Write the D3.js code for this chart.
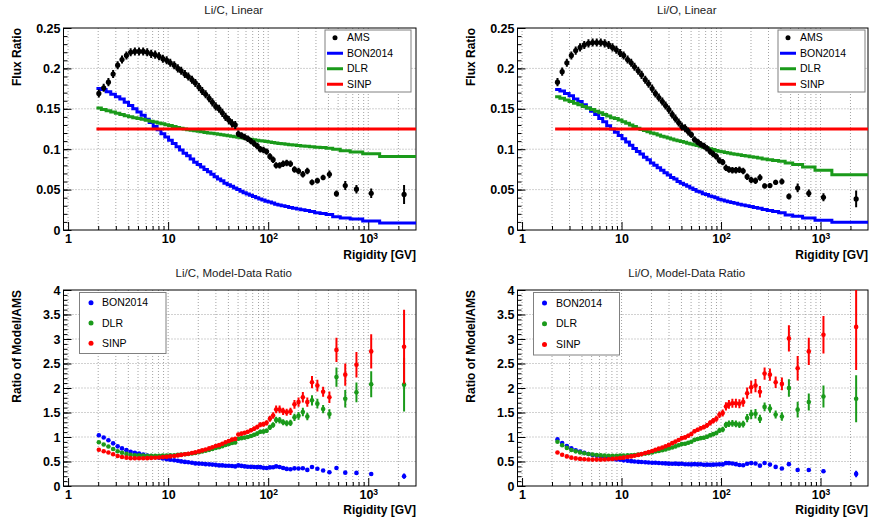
<!DOCTYPE html>
<html>
<head>
<meta charset="utf-8">
<script src="https://cdn.jsdelivr.net/npm/d3@7"></script>
<style>
  body { margin: 0; background: #fff; }
  svg { display: block; }
  text { font-family: "Liberation Sans", Arial, Helvetica, sans-serif; }
</style>
</head>
<body>
<div id="chart"></div>
<script>
// DATA
// rigidity bin edges [GV] used by the model histograms
var binEdges = [1.92, 2.15, 2.40, 2.67, 2.97, 3.29, 3.64, 4.02, 4.43, 4.88,
    5.37, 5.90, 6.47, 7.09, 7.76, 8.48, 9.26, 10.1, 11.0, 12.0,
    13.0, 14.1, 15.3, 16.6, 18.0, 19.5, 21.1, 22.8, 24.7, 26.7,
    28.8, 31.1, 33.5, 36.1, 38.9, 41.9, 45.1, 48.5, 52.2, 56.1,
    60.3, 64.8, 69.7, 74.9, 80.5, 86.5, 93.0, 100, 108, 116,
    125, 135, 147, 160, 175, 192, 211, 233, 259, 291,
    330, 379, 441, 525, 660, 880, 1300, 3300];

// rigidity where each AMS point sits
var amsRigidity = [2.03, 2.27, 2.53, 2.82, 3.13, 3.46, 3.83, 4.22, 4.65, 5.12,
    5.63, 6.18, 6.77, 7.42, 8.11, 8.86, 9.67, 10.5, 11.5, 12.5,
    13.5, 14.7, 15.9, 17.3, 18.7, 20.3, 21.9, 23.7, 25.7, 27.7,
    29.9, 32.3, 34.8, 37.5, 40.4, 43.5, 46.8, 50.3, 54.1, 58.2,
    62.5, 67.2, 72.3, 77.7, 83.4, 89.7, 96.4, 104, 112, 120,
    130, 141, 153, 167, 183, 201, 222, 246, 274, 310,
    354, 409, 481, 589, 762, 1070, 2280];

// Li/C (all 67 bins)
var licAms = [0.169, 0.176, 0.183, 0.193, 0.204, 0.211, 0.216, 0.220, 0.221, 0.221,
    0.221, 0.220, 0.218, 0.217, 0.215, 0.212, 0.210, 0.207, 0.204, 0.200,
    0.197, 0.193, 0.190, 0.186, 0.182, 0.177, 0.172, 0.168, 0.163, 0.158,
    0.153, 0.150, 0.145, 0.140, 0.136, 0.132, 0.130, 0.119, 0.117, 0.115,
    0.113, 0.110, 0.107, 0.104, 0.100, 0.099, 0.097, 0.091, 0.087, 0.080,
    0.080, 0.082, 0.083, 0.082, 0.075, 0.073, 0.069, 0.073, 0.059, 0.061,
    0.065, 0.069, 0.045, 0.055, 0.0505, 0.0455, 0.044];
var licAmsErr = [0.005, 0.005, 0.005, 0.005, 0.005, 0.005, 0.005, 0.005, 0.005, 0.005,
    0.005, 0.005, 0.005, 0.005, 0.005, 0.005, 0.005, 0.005, 0.005, 0.005,
    0.005, 0.005, 0.005, 0.005, 0.005, 0.005, 0.005, 0.005, 0.005, 0.005,
    0.005, 0.005, 0.005, 0.005, 0.005, 0.005, 0.005, 0.004, 0.004, 0.004,
    0.004, 0.004, 0.004, 0.004, 0.004, 0.004, 0.004, 0.004, 0.004, 0.004,
    0.004, 0.004, 0.004, 0.004, 0.004, 0.004, 0.004, 0.004, 0.0035, 0.0036,
    0.0035, 0.0045, 0.004, 0.0055, 0.0053, 0.0058, 0.0117];
var licBon = [0.175, 0.174, 0.171, 0.168, 0.165, 0.162, 0.158, 0.154, 0.150, 0.146,
    0.142, 0.137, 0.133, 0.128, 0.124, 0.119, 0.115, 0.111, 0.107, 0.103,
    0.099, 0.095, 0.092, 0.088, 0.084, 0.081, 0.078, 0.075, 0.072, 0.069,
    0.066, 0.063, 0.061, 0.058, 0.056, 0.054, 0.052, 0.050, 0.048, 0.046,
    0.0445, 0.043, 0.0415, 0.040, 0.0385, 0.037, 0.0357, 0.0345, 0.0333, 0.032,
    0.031, 0.030, 0.029, 0.028, 0.027, 0.026, 0.025, 0.024, 0.0228, 0.0215,
    0.0205, 0.0193, 0.0165, 0.015, 0.0135, 0.0112, 0.0088];
var licDlr = [0.151, 0.149, 0.1475, 0.146, 0.1445, 0.143, 0.1415, 0.1403, 0.139, 0.138,
    0.137, 0.1358, 0.1347, 0.1336, 0.1325, 0.1314, 0.1303, 0.1292, 0.1281, 0.127,
    0.126, 0.125, 0.1242, 0.1235, 0.1228, 0.1221, 0.1215, 0.1208, 0.1202, 0.1196,
    0.119, 0.1184, 0.1178, 0.1172, 0.1166, 0.116, 0.1154, 0.1148, 0.1142, 0.1136,
    0.113, 0.1124, 0.1118, 0.1112, 0.1106, 0.110, 0.1094, 0.1088, 0.1083, 0.1078,
    0.1072, 0.1067, 0.1062, 0.1056, 0.1051, 0.1046, 0.1041, 0.1036, 0.1031, 0.1025,
    0.102, 0.1013, 0.100, 0.098, 0.0965, 0.0945, 0.091];
var licSinp = 0.125;

// Li/O (66 bins, starting at 2.15 GV)
var lioAms = [0.183, 0.196, 0.207, 0.216, 0.222, 0.226, 0.229, 0.231, 0.232, 0.232,
    0.232, 0.231, 0.229, 0.226, 0.223, 0.219, 0.216, 0.211, 0.207, 0.202,
    0.197, 0.192, 0.186, 0.181, 0.175, 0.169, 0.164, 0.159, 0.154, 0.149,
    0.143, 0.138, 0.133, 0.128, 0.126, 0.122, 0.118, 0.112, 0.109, 0.106,
    0.104, 0.101, 0.097, 0.094, 0.091, 0.086, 0.084, 0.077, 0.075, 0.074,
    0.074, 0.0745, 0.073, 0.066, 0.062, 0.061, 0.065, 0.0545, 0.055, 0.059,
    0.060, 0.0415, 0.052, 0.0455, 0.0405, 0.0385];
var lioAmsErr = [0.005, 0.005, 0.005, 0.005, 0.005, 0.005, 0.005, 0.005, 0.005, 0.005,
    0.005, 0.005, 0.005, 0.005, 0.005, 0.005, 0.005, 0.005, 0.005, 0.005,
    0.005, 0.005, 0.005, 0.005, 0.005, 0.005, 0.005, 0.005, 0.005, 0.005,
    0.005, 0.005, 0.005, 0.005, 0.005, 0.005, 0.004, 0.004, 0.004, 0.004,
    0.004, 0.004, 0.004, 0.004, 0.004, 0.004, 0.004, 0.004, 0.004, 0.004,
    0.004, 0.004, 0.004, 0.004, 0.004, 0.004, 0.004, 0.003, 0.003, 0.0033,
    0.0037, 0.0037, 0.0054, 0.0046, 0.005, 0.0104];
var lioBon = [0.174, 0.172, 0.169, 0.166, 0.162, 0.159, 0.155, 0.151, 0.147, 0.143,
    0.138, 0.134, 0.129, 0.125, 0.121, 0.117, 0.113, 0.109, 0.105, 0.101,
    0.097, 0.094, 0.090, 0.087, 0.083, 0.080, 0.077, 0.074, 0.071, 0.068,
    0.065, 0.063, 0.060, 0.058, 0.056, 0.054, 0.052, 0.050, 0.048, 0.047,
    0.045, 0.044, 0.042, 0.041, 0.040, 0.038, 0.037, 0.036, 0.035, 0.034,
    0.033, 0.032, 0.031, 0.030, 0.029, 0.028, 0.027, 0.0255, 0.024, 0.023,
    0.0215, 0.0185, 0.017, 0.0148, 0.0122, 0.0095];
var lioDlr = [0.165, 0.163, 0.161, 0.159, 0.157, 0.155, 0.153, 0.151, 0.149, 0.147,
    0.145, 0.143, 0.141, 0.139, 0.138, 0.136, 0.134, 0.132, 0.130, 0.128,
    0.126, 0.1245, 0.123, 0.1215, 0.120, 0.119, 0.1175, 0.116, 0.115, 0.114,
    0.1125, 0.1115, 0.1105, 0.1095, 0.1085, 0.1075, 0.1065, 0.1055, 0.1045, 0.1035,
    0.1025, 0.1015, 0.1005, 0.0995, 0.0985, 0.0975, 0.0968, 0.096, 0.0953, 0.0945,
    0.0938, 0.093, 0.0922, 0.0915, 0.0907, 0.090, 0.089, 0.088, 0.087, 0.086,
    0.085, 0.083, 0.081, 0.078, 0.074, 0.0685];
var lioSinp = 0.125;

// axis ticks
var xDecades = [1, 10, 100, 1000];
var fluxTicks = [0, 0.05, 0.1, 0.15, 0.2, 0.25];
var ratioTicks = [0, 0.5, 1, 1.5, 2, 2.5, 3, 3.5, 4];

// colours
var colBon = "#0000ff";
var colDlr = "#1a9a1a";
var colSinp = "#ff0000";

// LAYOUT
var svg = d3.select("#chart").append("svg")
    .attr("width", 873)
    .attr("height", 523);

var frames = {
    tl: { l: 63.5, r: 416, t: 28, b: 230 },
    tr: { l: 517.5, r: 868, t: 28, b: 230 },
    bl: { l: 63.5, r: 416, t: 290, b: 486 },
    br: { l: 517.5, r: 868, t: 290, b: 486 }
};

var clipId = 0;

// draws the frame, grid, axes and titles of one pad, returns scales + clipped group
function drawPad(f, yMax, yTicks, yMinorStep, title, titleY, yTitle, xTitleY) {
    var x = d3.scaleLog().domain([0.9, 3000]).range([f.l, f.r]);
    var y = d3.scaleLinear().domain([0, yMax]).range([f.b, f.t]);

    var minorX = [];
    xDecades.forEach(function (d) {
        for (var k = 2; k < 10; k++) {
            if (d * k < 3000) minorX.push(d * k);
        }
    });

    var g = svg.append("g");

    // grid
    g.selectAll(".gx").data(xDecades.concat(minorX)).enter().append("line")
        .attr("x1", d => x(d)).attr("x2", d => x(d))
        .attr("y1", f.t).attr("y2", f.b)
        .attr("stroke", "#8c8c8c").attr("stroke-width", 0.8)
        .attr("stroke-dasharray", "1,2");
    g.selectAll(".gy").data(yTicks.slice(1, -1)).enter().append("line")
        .attr("x1", f.l).attr("x2", f.r)
        .attr("y1", d => y(d)).attr("y2", d => y(d))
        .attr("stroke", "#8c8c8c").attr("stroke-width", 0.8)
        .attr("stroke-dasharray", "1,2");

    // x axis, ticks inside
    var xAxis = g.append("g")
        .attr("transform", `translate(0, ${f.b})`)
        .call(d3.axisBottom(x).tickValues(xDecades).tickSize(-8).tickPadding(4));
    xAxis.selectAll("text").each(function (d) {
        var t = d3.select(this);
        var e = Math.round(Math.log10(d));
        t.text(null);
        if (e < 2) {
            t.text(d);
        } else {
            t.append("tspan").text("10");
            t.append("tspan").attr("dy", "-0.5em").attr("font-size", "8.5px").text(e);
        }
    });
    g.append("g")
        .attr("transform", `translate(0, ${f.b})`)
        .call(d3.axisBottom(x).tickValues(minorX).tickSize(-4).tickFormat(""));

    // y axis
    var yMinor = d3.range(0, yMax + yMinorStep / 2, yMinorStep);
    g.append("g")
        .attr("transform", `translate(${f.l}, 0)`)
        .call(d3.axisLeft(y).tickValues(yTicks).tickSize(-8).tickPadding(3).tickFormat(d => String(d)));
    g.append("g")
        .attr("transform", `translate(${f.l}, 0)`)
        .call(d3.axisLeft(y).tickValues(yMinor).tickSize(-4).tickFormat(""));

    g.selectAll(".domain").remove();
    g.selectAll(".tick text")
        .attr("font-family", "'Liberation Sans', Arial, sans-serif")
        .attr("font-size", "12.5px")
        .attr("font-weight", "bold")
        .attr("fill", "#000");

    // frame
    g.append("rect")
        .attr("x", f.l).attr("y", f.t)
        .attr("width", f.r - f.l).attr("height", f.b - f.t)
        .attr("fill", "none").attr("stroke", "#000").attr("stroke-width", 1);

    // titles
    svg.append("text")
        .attr("x", (f.l + f.r) / 2 - 6).attr("y", titleY)
        .attr("text-anchor", "middle")
        .attr("font-size", "11.5px").attr("fill", "#222")
        .text(title);
    svg.append("text")
        .attr("transform", `translate(${f.l - 47}, ${f.t}) rotate(-90)`)
        .attr("dy", "0.35em")
        .attr("text-anchor", "end")
        .attr("font-size", "12px").attr("font-weight", "bold")
        .text(yTitle);
    svg.append("text")
        .attr("x", f.r).attr("y", xTitleY)
        .attr("text-anchor", "end")
        .attr("font-size", "12px").attr("font-weight", "bold")
        .text("Rigidity [GV]");

    // clipped group for the data
    clipId += 1;
    svg.append("clipPath").attr("id", "clip" + clipId)
        .append("rect")
        .attr("x", f.l).attr("y", f.t)
        .attr("width", f.r - f.l).attr("height", f.b - f.t);
    var plot = svg.append("g").attr("clip-path", `url(#clip${clipId})`);

    return { x: x, y: y, plot: plot };
}

// step histogram over rigidity bins
function drawHist(p, edges, vals, color) {
    var pts = edges.map((e, i) => [e, vals[Math.min(i, vals.length - 1)]]);
    var line = d3.line()
        .x(d => p.x(d[0]))
        .y(d => p.y(d[1]))
        .curve(d3.curveStepAfter);
    p.plot.append("path")
        .datum(pts)
        .attr("d", line)
        .attr("fill", "none")
        .attr("stroke", color)
        .attr("stroke-width", 3);
}

// points with vertical error bars
function drawPoints(p, xs, vals, errs, color, r) {
    var data = vals.map((v, i) => ({ x: xs[i], v: v, e: errs[i] }));
    var gp = p.plot.append("g");
    gp.selectAll("line").data(data).enter().append("line")
        .attr("x1", d => p.x(d.x)).attr("x2", d => p.x(d.x))
        .attr("y1", d => p.y(d.v - d.e)).attr("y2", d => p.y(d.v + d.e))
        .attr("stroke", color).attr("stroke-width", 2);
    gp.selectAll("circle").data(data).enter().append("circle")
        .attr("cx", d => p.x(d.x)).attr("cy", d => p.y(d.v))
        .attr("r", r).attr("fill", color);
}

function drawLegend(box, rows, markX, textX) {
    svg.append("rect")
        .attr("x", box.x).attr("y", box.y)
        .attr("width", box.w).attr("height", box.h)
        .attr("fill", "#fff").attr("stroke", "#808080").attr("stroke-width", 1);
    rows.forEach(function (row, i) {
        var cy = box.y + box.h * (i + 0.5) / rows.length;
        if (row.type === "line") {
            svg.append("line")
                .attr("x1", box.x + 2).attr("x2", box.x + 18)
                .attr("y1", cy).attr("y2", cy)
                .attr("stroke", row.color).attr("stroke-width", 3);
        } else {
            svg.append("circle")
                .attr("cx", box.x + markX).attr("cy", cy)
                .attr("r", 2.5).attr("fill", row.color);
        }
        svg.append("text")
            .attr("x", box.x + textX).attr("y", cy)
            .attr("dy", "0.35em")
            .attr("font-size", "10.5px")
            .text(row.label);
    });
}

// TOP PANELS: flux ratios
function fluxPanel(f, title, ams, err, bon, dlr, sinp, firstBin) {
    var p = drawPad(f, 0.25, fluxTicks, 0.01, title, 14, "Flux Ratio", 259);
    var edges = binEdges.slice(firstBin);
    drawHist(p, edges, bon, colBon);
    drawHist(p, edges, dlr, colDlr);
    drawHist(p, edges, edges.map(() => sinp), colSinp);
    drawPoints(p, amsRigidity.slice(firstBin), ams, err, "#000", 2.6);
}

// BOTTOM PANELS: model / AMS
function ratioPanel(f, title, ams, err, models, firstBin) {
    var p = drawPad(f, 4, ratioTicks, 0.1, title, 277, "Ratio of Model/AMS", 514);
    var xs = amsRigidity.slice(firstBin);
    models.forEach(function (m) {
        var vals = ams.map((a, i) => (Array.isArray(m.v) ? m.v[i] : m.v) / a);
        var errs = vals.map((r, i) => r * err[i] / ams[i]);
        drawPoints(p, xs, vals, errs, m.color, 2.3);
    });
}

fluxPanel(frames.tl, "Li/C, Linear", licAms, licAmsErr, licBon, licDlr, licSinp, 0);
fluxPanel(frames.tr, "Li/O, Linear", lioAms, lioAmsErr, lioBon, lioDlr, lioSinp, 1);
ratioPanel(frames.bl, "Li/C, Model-Data Ratio", licAms, licAmsErr,
    [{ v: licBon, color: colBon }, { v: licDlr, color: colDlr }, { v: licSinp, color: colSinp }], 0);
ratioPanel(frames.br, "Li/O, Model-Data Ratio", lioAms, lioAmsErr,
    [{ v: lioBon, color: colBon }, { v: lioDlr, color: colDlr }, { v: lioSinp, color: colSinp }], 1);

var topRows = [
    { label: "AMS", type: "marker", color: "#000" },
    { label: "BON2014", type: "line", color: colBon },
    { label: "DLR", type: "line", color: colDlr },
    { label: "SINP", type: "line", color: colSinp }
];
var botRows = [
    { label: "BON2014", type: "marker", color: colBon },
    { label: "DLR", type: "marker", color: colDlr },
    { label: "SINP", type: "marker", color: colSinp }
];
drawLegend({ x: 325, y: 30, w: 86, h: 62 }, topRows, 10, 22);
drawLegend({ x: 778, y: 30, w: 87, h: 62 }, topRows, 10, 22);
drawLegend({ x: 79.5, y: 292.5, w: 86.5, h: 61 }, botRows, 11.5, 22.5);
drawLegend({ x: 533.5, y: 292.5, w: 86, h: 62.5 }, botRows, 11, 22.5);
</script>
</body>
</html>
